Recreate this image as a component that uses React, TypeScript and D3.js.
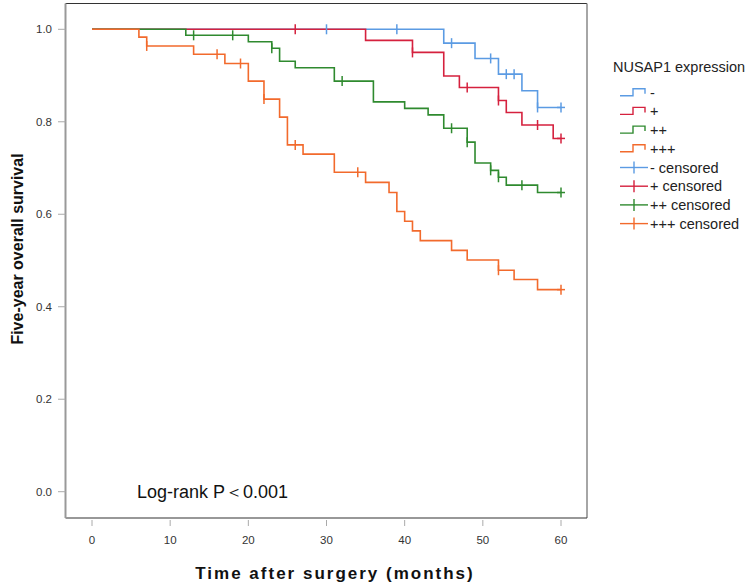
import * as d3 from 'd3';

// Kaplan-Meier steps: event times (months) and survival after each event
const negTimes = [0, 45, 49, 52, 55, 57];
const negSurv = [1, 0.970, 0.937, 0.903, 0.867, 0.831];
const negCensor = [30, 39, 46, 51, 53, 54, 57, 60];

const posTimes = [0, 35, 41, 45, 47, 52, 53, 55, 59];
const posSurv = [1, 0.976, 0.950, 0.899, 0.874, 0.846, 0.820, 0.793, 0.764];
const posCensor = [26, 41, 48, 52, 57, 60];

const pos2Times = [0, 12, 20, 23, 24, 26, 31, 36, 40, 43, 45, 48, 49, 51, 52, 53, 57];
const pos2Surv = [1, 0.987, 0.973, 0.959, 0.931, 0.917, 0.888, 0.843, 0.829, 0.815, 0.786, 0.756, 0.711, 0.695, 0.680, 0.663, 0.647];
const pos2Censor = [13, 18, 23, 32, 46, 48, 51, 52, 55, 60];

const pos3Times = [0, 6, 7, 13, 17, 20, 22, 24, 25, 27, 31, 35, 38, 39, 40, 41, 42, 46, 48, 52, 54, 57];
const pos3Surv = [1, 0.983, 0.964, 0.946, 0.926, 0.888, 0.849, 0.810, 0.750, 0.730, 0.691, 0.669, 0.647, 0.606, 0.585, 0.564, 0.543, 0.522, 0.501, 0.479, 0.459, 0.437];
const pos3Censor = [7, 16, 19, 22, 26, 34, 52, 60];

const groupLabels = ['-', '+', '++', '+++'];
const xTicks = [0, 10, 20, 30, 40, 50, 60];
const yTicks = [0, 0.2, 0.4, 0.6, 0.8, 1.0];

const colors = ['#5B9BE3', '#D5213E', '#2F8A2F', '#F26A2C'];
const font = 'Arial, "Liberation Sans", sans-serif';

const groups = [
  { times: negTimes, surv: negSurv, censor: negCensor },
  { times: posTimes, surv: posSurv, censor: posCensor },
  { times: pos2Times, surv: pos2Surv, censor: pos2Censor },
  { times: pos3Times, surv: pos3Surv, censor: pos3Censor },
];

const x = d3.scaleLinear().domain([0, 60]).range([92, 561]);
const y = d3.scaleLinear().domain([0, 1]).range([491.7, 29.3]);
const frame = { left: 65.5, right: 587, top: 3.5, bottom: 518 };

const survAt = (times: number[], surv: number[], t: number) => {
  const i = d3.bisectRight(times, t) - 1;
  return surv[Math.max(0, i)];
};

const step = d3.line<[number, number]>()
  .x(d => x(d[0]))
  .y(d => y(d[1]))
  .curve(d3.curveStepAfter);

export default function App() {
  return (
    <svg width={749} height={586} style={{ position: 'absolute', left: 0, top: 0, background: '#fff' }} fontFamily={font}>
      {/* frame */}
      <line x1={frame.left} x2={frame.right} y1={frame.top} y2={frame.top} stroke="#333" strokeWidth={1} />
      <line x1={frame.right} x2={frame.right} y1={frame.top} y2={frame.bottom} stroke="#888" strokeWidth={1.5} />
      <line x1={frame.left} x2={frame.right} y1={frame.bottom} y2={frame.bottom} stroke="#333" strokeWidth={1.2} />
      <line x1={frame.left} x2={frame.left} y1={frame.top} y2={frame.bottom} stroke="#999" strokeWidth={2} />

      {/* y axis */}
      {yTicks.map(t => (
        <g key={t}>
          <line x1={58} x2={frame.left} y1={y(t)} y2={y(t)} stroke="#aaa" strokeWidth={1} />
          <text x={52} y={y(t) + 4} textAnchor="end" fontSize={11.5} fill="#333">{t.toFixed(1)}</text>
        </g>
      ))}
      {/* x axis */}
      {xTicks.map(t => (
        <g key={t}>
          <line x1={x(t)} x2={x(t)} y1={520} y2={526} stroke="#aaa" strokeWidth={1} />
          <text x={x(t)} y={544} textAnchor="middle" fontSize={11.5} fill="#333">{t}</text>
        </g>
      ))}

      <text transform="translate(23,249) rotate(-90)" textAnchor="middle" fontSize={16} fontWeight="bold" fill="#111">Five-year overall survival</text>
      <text x={335} y={579} textAnchor="middle" fontSize={17} fontWeight="bold" letterSpacing={2} fill="#111">Time after surgery (months)</text>

      {/* curves */}
      {groups.map((g, i) => {
        const pts: [number, number][] = g.times.map((t, j) => [t, g.surv[j]] as [number, number]);
        pts.push([60, g.surv[g.surv.length - 1]]);
        return <path key={i} d={step(pts) ?? ''} fill="none" stroke={colors[i]} strokeWidth={1.6} />;
      })}
      {groups.map((g, i) => (
        <g key={'c' + i}>
          {g.censor.map((t, j) => {
            const yy = y(survAt(g.times, g.surv, t));
            return (
              <g key={j}>
                <line x1={x(t)} x2={x(t)} y1={yy - 5} y2={yy + 5} stroke={colors[i]} strokeWidth={1.5} />
                {t === 60 && <line x1={x(t) - 4} x2={x(t) + 4} y1={yy} y2={yy} stroke={colors[i]} strokeWidth={1.5} />}
              </g>
            );
          })}
        </g>
      ))}

      <text x={137} y={498} fontSize={18} fill="#111">Log-rank P＜0.001</text>

      {/* legend */}
      <text x={613} y={72} fontSize={14.5} fill="#222">NUSAP1 expression</text>
      {groupLabels.map((lab, i) => {
        const cy = 92.7 + i * 18.7;
        return (
          <g key={'l' + i}>
            <path d={`M620,${cy + 3}H633V${cy - 4}H645V${cy + 1}`} fill="none" stroke={colors[i]} strokeWidth={1.4} />
            <text x={650} y={cy + 5} fontSize={14.5} fill="#222">{lab}</text>
          </g>
        );
      })}
      {groupLabels.map((lab, i) => {
        const cy = 167.5 + i * 18.7;
        return (
          <g key={'lc' + i}>
            <line x1={620} x2={648} y1={cy} y2={cy} stroke={colors[i]} strokeWidth={1.4} />
            <line x1={634} x2={634} y1={cy - 6} y2={cy + 6} stroke={colors[i]} strokeWidth={1.4} />
            <text x={650} y={cy + 5} fontSize={14.5} fill="#222">{lab} censored</text>
          </g>
        );
      })}
    </svg>
  );
}
